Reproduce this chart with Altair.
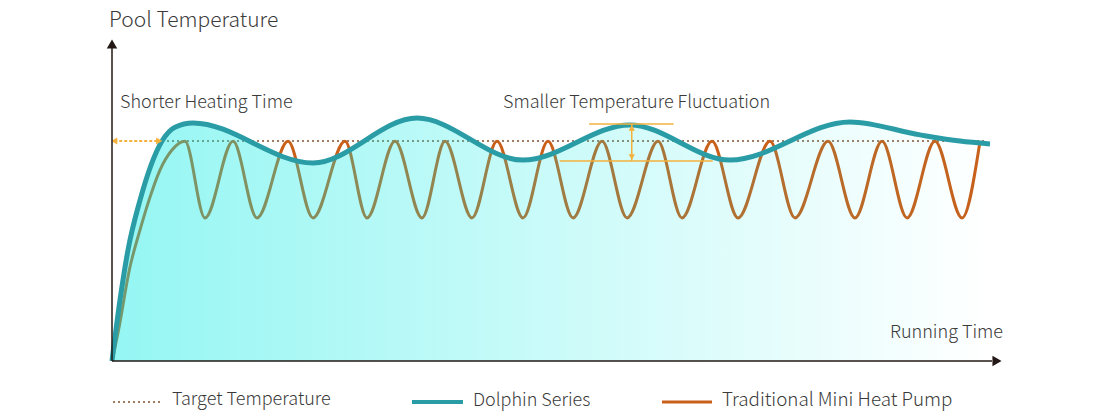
import altair as alt
import pandas as pd

# ---- values (time 0-100, temperature 0-100) ----
dolphin_time = [0, 0.9, 1.8, 3.15, 5.62, 7.08, 9.1, 22.58, 34.27, 46.18, 58.2, 69.44, 82.92, 90.79, 95.28, 98.65]
dolphin_temp = [0, 18.9, 34.4, 49.8, 68.1, 72.4, 73.7, 61.3, 75.2, 62.2, 73.1, 62.2, 74.0, 70.0, 68.1, 67.2]

trad_time = [0, 0.67, 2.02, 3.15, 4.16, 5.39, 6.74, 8.20, 10.45, 13.60, 16.29, 19.78, 22.58, 26.18, 28.65,
             31.80, 34.83, 37.42, 40.45, 43.26, 46.18, 48.99, 51.80, 55.06, 57.87, 61.35, 64.04, 67.42,
             70.34, 73.93, 76.74, 80.45, 83.48, 86.52, 89.33, 92.47, 95.51, 97.53]
trad_temp = [0, 8.7, 29.1, 40.6, 49.8, 59.1, 65.3, 68.0, 44.3, 68.0, 44.3, 68.0, 44.3, 68.0, 44.3,
             68.0, 44.3, 68.0, 44.3, 68.0, 44.3, 68.0, 44.3, 68.0, 44.3, 68.0, 44.3, 68.0,
             44.3, 68.0, 44.3, 68.0, 44.3, 68.0, 44.3, 68.0, 44.3, 68.0]

target_temp = 68.1
target_time = [5.62, 98.3]

heating_arrow_time = [0.25, 5.3]        # shorter heating time span
fluct_top = 73.4                         # dolphin peak level
fluct_bottom = 61.9                      # dolphin trough level
fluct_top_span = [53.6, 63.1]
fluct_bottom_span = [50.3, 67.5]
fluct_arrow_time = 58.4

y_title = "Pool Temperature"
x_title = "Running Time"
note_left = "Shorter Heating Time"
note_right = "Smaller Temperature Fluctuation"
legend_labels = ["Target Temperature", "Dolphin Series", "Traditional Mini Heat Pump"]

# ---- styles ----
TEAL = "#2A9CA6"
ORANGE = "#C8601A"
TARGET = "#A27C62"
YELLOW = "#F4B23C"
AXIS = "#231815"
TEXT = "#3A3A3A"
FONT = "Noto Sans CJK SC"
FS = 18

W, H = 890, 323
xs = alt.Scale(domain=[0, 100])
ys = alt.Scale(domain=[0, 100])
X = lambda f: alt.X(f, type="quantitative", scale=xs, axis=None)
Y = lambda f: alt.Y(f, type="quantitative", scale=ys, axis=None)

df_d = pd.DataFrame({"t": dolphin_time, "v": dolphin_temp})
df_o = pd.DataFrame({"t": trad_time, "v": trad_temp})
df_target = pd.DataFrame({"t": [target_time[0]], "t2": [target_time[1]], "v": [target_temp]})
one = pd.DataFrame({"a": [0]})

target_line = alt.Chart(df_target).mark_rule(color=TARGET, strokeWidth=2, strokeDash=[2, 3]).encode(
    x=X("t"), x2="t2", y=Y("v"))

orange_line = alt.Chart(df_o).mark_line(color=ORANGE, strokeWidth=3, interpolate="monotone").encode(
    x=X("t"), y=Y("v"))

grad = alt.Gradient(
    gradient="linear",
    stops=[alt.GradientStop(color="rgba(0,234,226,0.42)", offset=0),
           alt.GradientStop(color="rgba(0,234,226,0.0)", offset=1)],
    x1=0, x2=1, y1=0, y2=0)
area = alt.Chart(df_d).mark_area(color=grad, interpolate="monotone").encode(x=X("t"), y=Y("v"))

teal_line = alt.Chart(df_d).mark_line(color=TEAL, strokeWidth=5, interpolate="monotone").encode(
    x=X("t"), y=Y("v"))

# heating-time double arrow
df_ha = pd.DataFrame({"t": [heating_arrow_time[0]], "t2": [heating_arrow_time[1]], "v": [target_temp]})
heat_rule = alt.Chart(df_ha).mark_rule(color=YELLOW, strokeWidth=2, strokeDash=[3, 2]).encode(
    x=X("t"), x2="t2", y=Y("v"))
heat_l = alt.Chart(df_ha).mark_point(shape="triangle-left", filled=True, color=YELLOW, size=50, opacity=1).encode(
    x=X("t"), y=Y("v"))
heat_r = alt.Chart(df_ha).mark_point(shape="triangle-right", filled=True, color=YELLOW, size=50, opacity=1).encode(
    x=X("t2"), y=Y("v"))

# fluctuation marks
df_ft = pd.DataFrame({"t": [fluct_top_span[0]], "t2": [fluct_top_span[1]], "v": [fluct_top]})
df_fb = pd.DataFrame({"t": [fluct_bottom_span[0]], "t2": [fluct_bottom_span[1]], "v": [fluct_bottom]})
df_fv = pd.DataFrame({"t": [fluct_arrow_time], "v": [fluct_top], "v2": [fluct_bottom]})
f_top = alt.Chart(df_ft).mark_rule(color=YELLOW, strokeWidth=1.5).encode(x=X("t"), x2="t2", y=Y("v"))
f_bot = alt.Chart(df_fb).mark_rule(color=YELLOW, strokeWidth=1.5).encode(x=X("t"), x2="t2", y=Y("v"))
f_v = alt.Chart(df_fv).mark_rule(color=YELLOW, strokeWidth=1.5).encode(x=X("t"), y=Y("v"), y2="v2")
f_up = alt.Chart(df_fv).mark_point(shape="triangle-up", filled=True, color=YELLOW, size=40, opacity=1,
                                   yOffset=4).encode(x=X("t"), y=Y("v"))
f_dn = alt.Chart(df_fv).mark_point(shape="triangle-down", filled=True, color=YELLOW, size=40, opacity=1,
                                   yOffset=-4).encode(x=X("t"), y=Y("v2"))

# axes with arrows
y_axis = alt.Chart(one).mark_rule(color=AXIS, strokeWidth=1.5).encode(
    x=alt.value(0), y=alt.value(10), y2=alt.value(H))
x_axis = alt.Chart(one).mark_rule(color=AXIS, strokeWidth=1.5).encode(
    x=alt.value(0), x2=alt.value(W - 10), y=alt.value(H))
y_head = alt.Chart(one).mark_point(shape="triangle-up", filled=True, color=AXIS, size=110, opacity=1).encode(
    x=alt.value(0), y=alt.value(6))
x_head = alt.Chart(one).mark_point(shape="triangle-right", filled=True, color=AXIS, size=110, opacity=1).encode(
    x=alt.value(W - 5), y=alt.value(H))


def txt(s, x, y, fs=FS):
    return alt.Chart(one).mark_text(text=s, font=FONT, fontSize=fs, fontWeight=300, color=TEXT,
                                    align="left", baseline="alphabetic").encode(x=alt.value(x), y=alt.value(y))


texts = [
    txt(y_title, -3, -11, 21),
    txt(note_left, 8, 69.5),
    txt(note_right, 391, 69.5),
    txt(x_title, 778, 299.5),
    txt(legend_labels[0], 60, 367),
    txt(legend_labels[1], 361, 368),
    txt(legend_labels[2], 610, 368, 18.8),
]

leg_target = alt.Chart(one).mark_rule(color=TARGET, strokeWidth=2, strokeDash=[2, 3]).encode(
    x=alt.value(1), x2=alt.value(51), y=alt.value(364))
leg_teal = alt.Chart(one).mark_rule(color=TEAL, strokeWidth=4).encode(
    x=alt.value(300), x2=alt.value(351), y=alt.value(364))
leg_orange = alt.Chart(one).mark_rule(color=ORANGE, strokeWidth=3).encode(
    x=alt.value(550), x2=alt.value(600), y=alt.value(364))

chart = alt.layer(
    target_line, orange_line, area, teal_line,
    heat_rule, heat_l, heat_r, f_top, f_bot, f_v, f_up, f_dn,
    y_axis, x_axis, y_head, x_head,
    leg_target, leg_teal, leg_orange,
    *texts,
).properties(
    width=W, height=H,
    background="white",
    autosize=alt.AutoSizeParams(type="none"),
    padding={"left": 104, "top": 30, "right": 90, "bottom": 50},
).configure_view(stroke=None)

chart.save("out.html", embed_options={"renderer": "svg", "actions": False})
